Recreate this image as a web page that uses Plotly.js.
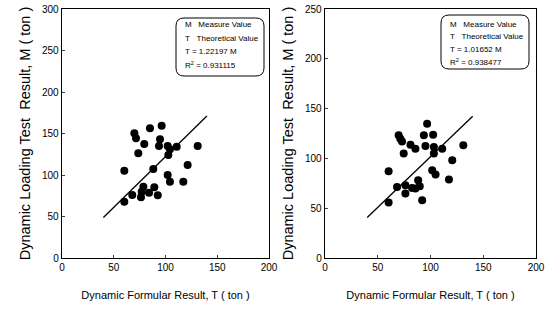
<!DOCTYPE html>
<html><head><meta charset="utf-8">
<script src="https://cdn.plot.ly/plotly-3.0.1.min.js"></script>
<style>html,body{margin:0;padding:0;background:#fff;}#chart{width:547px;height:311px;}</style>
</head><body><div id="chart"></div>
<script>
// Left panel: T (formular) vs M (loading test)
const leftT = [60.2,60.2,67.9,69.9,71.5,73.7,76.3,77.0,78.6,79.5,84.1,85.0,88.2,89.2,92.5,93.7,94.7,96.3,102.1,102.1,102.7,104.3,104.3,110.8,117.2,121.4,131.1];
const leftM = [105.2,67.8,75.9,150.2,144.2,126.1,73.1,79.9,85.9,137.3,78.7,156.2,107.2,85.1,75.5,134.9,143.0,159.4,134.9,100.0,124.1,131.0,91.9,134.1,91.9,112.0,134.9];
// Right panel
const rightT = [60.3,60.3,68.3,69.8,71.4,73.0,74.6,76.2,76.2,81.0,82.5,85.7,85.7,88.3,89.8,92.1,93.7,95.2,96.8,101.6,102.5,103.2,103.2,104.8,111.1,117.5,120.6,131.1];
const rightM = [87.1,55.8,71.4,123.2,119.8,117.0,104.8,73.1,64.8,113.8,70.4,69.8,109.8,78.1,72.1,58.1,123.2,112.4,134.8,88.1,123.8,111.4,104.8,83.8,109.8,78.8,98.1,113.2];
// Fit lines
const fitT = [40, 140];
const leftSlope = 1.22197;
const rightSlope = 1.01652;
const leftR2 = "0.931115";
const rightR2 = "0.938477";
const xTicks = [0, 50, 100, 150, 200];
const leftYTicks = [0, 50, 100, 150, 200, 250, 300];
const rightYTicks = [0, 50, 100, 150, 200, 250];

const fontFam = "Liberation Sans, Arial, sans-serif";
const mk = {color: "#000", size: 8};
const traces = [
  {x: leftT, y: leftM, mode: "markers", type: "scatter", marker: mk, xaxis: "x", yaxis: "y"},
  {x: fitT, y: fitT.map(t => t * leftSlope), mode: "lines", type: "scatter", line: {color: "#000", width: 1.3}, xaxis: "x", yaxis: "y"},
  {x: rightT, y: rightM, mode: "markers", type: "scatter", marker: mk, xaxis: "x2", yaxis: "y2"},
  {x: fitT, y: fitT.map(t => t * rightSlope), mode: "lines", type: "scatter", line: {color: "#000", width: 1.3}, xaxis: "x2", yaxis: "y2"}
];

const yDom = [53/311, 302/311];
function xAx(dom, anchor) {
  return {domain: dom, anchor: anchor, range: [0, 200], tickvals: xTicks, ticks: "inside", ticklen: 3,
    showline: true, linecolor: "#000", linewidth: 1.3, mirror: true, showgrid: false, zeroline: false,
    tickfont: {family: fontFam, size: 10, color: "#000"},
    title: {text: "Dynamic Formular Result, T ( ton )", font: {family: fontFam, size: 11, color: "#000"}, standoff: 19}};
}
function yAx(range, ticks, anchor) {
  return {domain: yDom, anchor: anchor, range: range, tickvals: ticks, ticks: "inside", ticklen: 3,
    showline: true, linecolor: "#000", linewidth: 1.3, mirror: true, showgrid: false, zeroline: false,
    tickfont: {family: fontFam, size: 10, color: "#000"},
    title: {text: "Dynamic Loading Test&nbsp; Result, M ( ton )", font: {family: fontFam, size: 14.5, color: "#000"}, standoff: 8}};
}

function roundRect(x0, y0, x1, y1, r) {
  const W = 547, H = 311;
  const px = v => v / W, py = v => 1 - v / H;
  const rx = r / W, ry = r / H;
  return `M ${px(x0)+rx},${py(y0)} L ${px(x1)-rx},${py(y0)} Q ${px(x1)},${py(y0)} ${px(x1)},${py(y0)-ry} ` +
         `L ${px(x1)},${py(y1)+ry} Q ${px(x1)},${py(y1)} ${px(x1)-rx},${py(y1)} ` +
         `L ${px(x0)+rx},${py(y1)} Q ${px(x0)},${py(y1)} ${px(x0)},${py(y1)+ry} ` +
         `L ${px(x0)},${py(y0)-ry} Q ${px(x0)},${py(y0)} ${px(x0)+rx},${py(y0)} Z`;
}

function legendAnn(x0, y0, step, lines) {
  const W = 547, H = 311;
  return lines.map((t, i) => ({xref: "paper", yref: "paper", x: x0 / W, y: 1 - (y0 + i * step) / H,
    xanchor: "left", yanchor: "middle", showarrow: false, text: t,
    font: {family: fontFam, size: 8, color: "#000"}}));
}

const layout = {
  width: 547, height: 311, margin: {l: 0, r: 0, t: 0, b: 0},
  paper_bgcolor: "#fff", plot_bgcolor: "#fff", showlegend: false,
  xaxis: xAx([62/547, 269/547], "y"),
  yaxis: yAx([0, 300], leftYTicks, "x"),
  xaxis2: xAx([325/547, 536/547], "y2"),
  yaxis2: yAx([0, 250], rightYTicks, "x2"),
  shapes: [
    {type: "path", xref: "paper", yref: "paper", path: roundRect(176, 18, 264, 76, 8), line: {color: "#000", width: 1}},
    {type: "path", xref: "paper", yref: "paper", path: roundRect(441, 15, 529, 69, 8), line: {color: "#000", width: 1}}
  ],
  annotations: [].concat(
    legendAnn(183, 25, 13.3, ["M&nbsp;&nbsp;&nbsp;Measure Value", "T&nbsp;&nbsp;&nbsp;Theoretical Value", "T = " + leftSlope + " M", "R<sup>2</sup> = " + leftR2]),
    legendAnn(448, 24, 12.7, ["M&nbsp;&nbsp;&nbsp;Measure Value", "T&nbsp;&nbsp;&nbsp;Theoretical Value", "T = " + rightSlope + " M", "R<sup>2</sup> = " + rightR2])
  )
};
Plotly.newPlot("chart", traces, layout, {displayModeBar: false, staticPlot: true});
</script></body></html>
